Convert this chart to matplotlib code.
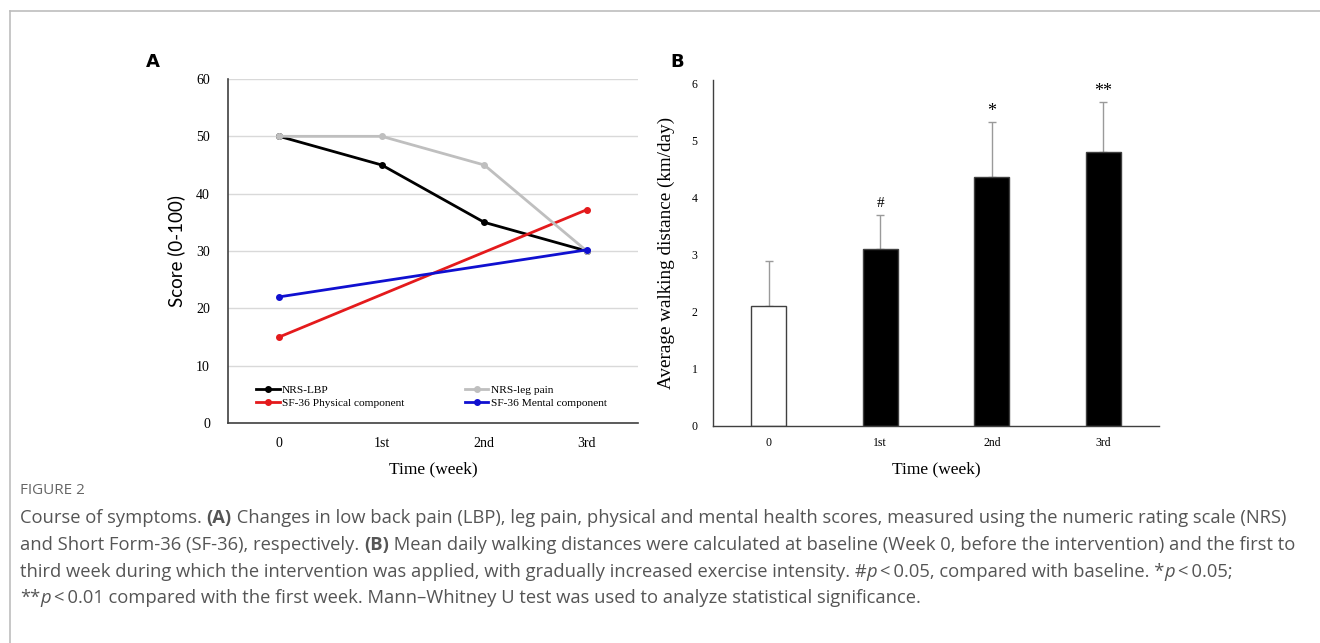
import numpy as np
import matplotlib
matplotlib.use("Agg")
import matplotlib.pyplot as plt
from matplotlib.lines import Line2D

# data
weeks = ["0", "1st", "2nd", "3rd"]
nrs_lbp = [50, 45, 35, 30]
nrs_leg = [50, 50, 45, 30]
sf36_phys = [15, np.nan, np.nan, 37.2]
sf36_mental = [22, np.nan, np.nan, 30.2]

walk_mean = [2.1, 3.1, 4.36, 4.8]
walk_sd = [0.8, 0.6, 0.97, 0.88]
sig_marks = ["", "#", "*", "**"]

SERIF = "Liberation Serif"
W, H = 1320, 643
fig = plt.figure(figsize=(W / 100, H / 100), dpi=100)

def fx(px):
    return px / W

def fy(py):
    return 1 - py / H

# frame lines (top and left only)
fig.add_artist(Line2D([fx(10), 1], [fy(11), fy(11)], color="#bdbdbd", lw=1.2))
fig.add_artist(Line2D([fx(10), fx(10)], [fy(11), 0], color="#bdbdbd", lw=1.2))

# ---------- panel A ----------
axA = fig.add_axes([fx(228), fy(423), fx(638) - fx(228), fy(79) - fy(423)])
x = np.arange(len(weeks))

def plot_series(ax, y, color, label):
    y = np.asarray(y, dtype=float)
    m = np.isfinite(y)
    ax.plot(x[m], y[m], color=color, lw=2.0, marker="o", ms=4, label=label)

plot_series(axA, nrs_lbp, "black", "NRS-LBP")
plot_series(axA, sf36_phys, "#e41a1c", "SF-36 Physical component")
plot_series(axA, nrs_leg, "#bfbfbf", "NRS-leg pain")
plot_series(axA, sf36_mental, "#1010d0", "SF-36 Mental component")
axA.set_xlim(-0.5, 3.5)
axA.set_ylim(0, 60)
axA.set_yticks(range(0, 61, 10))
axA.set_xticks(x)
axA.set_xticklabels(weeks)
axA.yaxis.grid(True, color="#d9d9d9", lw=1)
axA.set_axisbelow(True)
for s in ["top", "right"]:
    axA.spines[s].set_visible(False)
for s in ["left", "bottom"]:
    axA.spines[s].set_color("#404040")
    axA.spines[s].set_linewidth(1.2)
axA.tick_params(length=0, labelsize=10, pad=13)
axA.tick_params(axis="x", pad=10)
for lab in axA.get_xticklabels() + axA.get_yticklabels():
    lab.set_fontfamily(SERIF)
axA.set_xlabel("Time (week)", fontfamily=SERIF, fontsize=12.5, labelpad=8)
axA.set_ylabel("Score (0-100)", fontfamily="Lato", fontsize=13.5, labelpad=8)
axA.legend(loc="lower left", bbox_to_anchor=(0.048, 0.02), ncol=2, frameon=False,
           prop={"family": SERIF, "size": 8.2}, handlelength=2.1, handletextpad=0.2,
           columnspacing=5.3, labelspacing=0.3, borderpad=0.2)

# ---------- panel B ----------
axB = fig.add_axes([fx(713), fy(426), fx(1159) - fx(713), fy(80) - fy(426)])
bar_colors = ["white", "black", "black", "black"]
axB.bar(x, walk_mean, width=0.31, color=bar_colors, edgecolor="#404040", lw=1.0, zorder=2)
axB.errorbar(x, walk_mean, yerr=[np.zeros(len(x)), walk_sd], fmt="none",
             ecolor="#9a9a9a", elinewidth=1.0, capsize=3, capthick=1.0, zorder=1)
for xi, m, sd, t in zip(x, walk_mean, walk_sd, sig_marks):
    if t:
        fs = 11 if t == "#" else 13
        axB.annotate(t, (xi, m + sd), xytext=(0, 8), textcoords="offset points",
                     ha="center", va="center", fontfamily=SERIF, fontsize=fs)
axB.set_xlim(-0.5, 3.5)
axB.set_ylim(0, 6.07)
axB.set_yticks(range(0, 7))
axB.set_xticks(x)
axB.set_xticklabels(weeks)
for s in ["top", "right"]:
    axB.spines[s].set_visible(False)
for s in ["left", "bottom"]:
    axB.spines[s].set_color("#404040")
    axB.spines[s].set_linewidth(1.0)
axB.tick_params(length=0, labelsize=8.5, pad=11)
axB.tick_params(axis="x", pad=8)
for lab in axB.get_xticklabels() + axB.get_yticklabels():
    lab.set_fontfamily(SERIF)
axB.set_xlabel("Time (week)", fontfamily=SERIF, fontsize=12.5, labelpad=9)
axB.set_ylabel("Average walking distance (km/day)", fontfamily=SERIF, fontsize=13.8, labelpad=12)

# panel letters
fig.text(fx(153), fy(62), "A", fontsize=13, fontweight="bold", ha="center", va="center",
         fontfamily="DejaVu Sans")
fig.text(fx(677), fy(62), "B", fontsize=13, fontweight="bold", ha="center", va="center",
         fontfamily="DejaVu Sans")

# ---------- caption ----------
CAP = "Open Sans"
cap_color = "#555555"
fig.text(fx(20), fy(491), "FIGURE 2", fontsize=11, color="#666666", fontfamily=CAP, va="center")

caption = [
    [("Course of symptoms. ", "n"), ("(A)", "b"),
     (" Changes in low back pain (LBP), leg pain, physical and mental health scores, measured using the numeric rating scale (NRS)", "n")],
    [("and Short Form-36 (SF-36), respectively. ", "n"), ("(B)", "b"),
     (" Mean daily walking distances were calculated at baseline (Week 0, before the intervention) and the first to", "n")],
    [("third week during which the intervention was applied, with gradually increased exercise intensity. #", "n"),
     ("p", "i"), ("\u2009<\u20090.05, compared with baseline. *", "n"), ("p", "i"), ("\u2009<\u20090.05;", "n")],
    [("**", "n"), ("p", "i"),
     ("\u2009<\u20090.01 compared with the first week. Mann\u2013Whitney U test was used to analyze statistical significance.", "n")],
]
line_y = [518, 545, 572, 598]
cap_size = 13.2

fig.canvas.draw()
renderer = fig.canvas.get_renderer()
for segs, py in zip(caption, line_y):
    cx = 20
    for s, st in segs:
        kw = dict(fontsize=cap_size, color=cap_color, fontfamily=CAP, va="center", ha="left")
        if st == "b":
            kw["fontweight"] = "bold"
        if st == "i":
            kw["fontstyle"] = "italic"
        t = fig.text(fx(cx), fy(py), s, **kw)
        cx += t.get_window_extent(renderer).width

fig.savefig("out.png", dpi=100)
